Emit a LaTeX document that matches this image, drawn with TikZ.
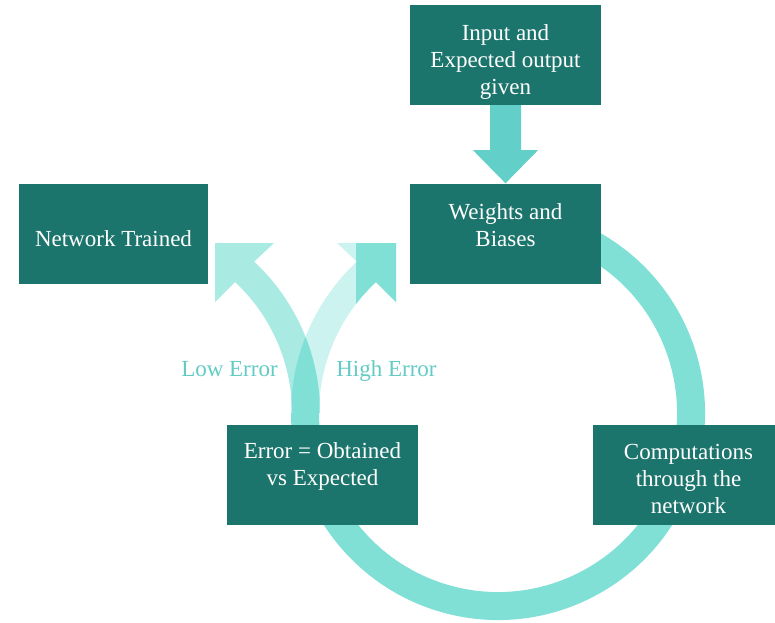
\documentclass[tikz,border=0pt]{standalone}
\usepackage{fontspec}
\setmainfont{Liberation Serif}
\usetikzlibrary{calc}

\definecolor{boxteal}{HTML}{1C756C}
\definecolor{ringaqua}{HTML}{80E0D6}
\definecolor{feedaqua}{HTML}{62CFC8}
\definecolor{labelaqua}{HTML}{62CCC4}

% One branch leaving the loop: the ring arc from the left side up to a corner-shaped head
\newcommand\loopbranch{(291,413) arc[start angle=180,end angle=227,radius=207]
  -- (337,243) -- (396,243) -- (396,302) -- (375.92,282.09)
  arc[start angle=227,end angle=180,radius=179] -- cycle}

\tikzset{
  stage/.style={fill=boxteal, minimum width=191pt, minimum height=100pt, inner sep=0pt},
  stagetext/.style={text=white, font=\fontsize{23}{27}\selectfont, align=center,
    inner sep=0pt, anchor=north},
  branchlabel/.style={text=labelaqua, font=\fontsize{23}{27}\selectfont,
    inner sep=0pt, anchor=base},
  mirrored/.style={xshift=611pt, xscale=-1},
}

\begin{document}
\begin{tikzpicture}[x=1pt, y=-1pt]
\useasboundingbox (0,0) rectangle (775,622);
\clip (0,0) rectangle (775,622);

% main loop ring (clockwise from behind "Weights and Biases")
\coordinate (ctr) at (498,413);
\draw[ringaqua, line width=28pt] ($(ctr)+(-70:193)$) arc[start angle=-70, end angle=180, radius=193];

% "High Error" branch: faded shaft, solid head part
\fill[ringaqua, opacity=0.4] \loopbranch;
\begin{scope}
  \clip (356,0) rectangle (800,622);
  \fill[ringaqua] \loopbranch;
\end{scope}

% "Low Error" branch: mirror image, semi-transparent
\begin{scope}[mirrored]
  \fill[ringaqua, opacity=0.68] \loopbranch;
\end{scope}

% where both branches overlap the ring colour is full
\begin{scope}[mirrored]
  \clip \loopbranch;
  \begin{scope}[mirrored]
    \fill[ringaqua] \loopbranch;
  \end{scope}
\end{scope}

% branch labels
\node[branchlabel] (lowlbl) at (229.5,376) {Low Error};
\node[branchlabel] (highlbl) at (386.5,376) {High Error};

% stage boxes
\node[stage] (inp) at (505.5,55) {};
\node[stage] (wb) at (505.5,233.5) {};
\node[stage, minimum width=189pt] (nt) at (113.5,233.5) {};
\node[stage] (err) at (322.5,475) {};
\node[stage] (comp) at (688.5,474.5) {};

\node[stagetext] (inp-t) at ($(inp.north)+(0,20)$) {Input and\\Expected output\\given};
\node[stagetext] (wb-t) at ($(wb.north)+(0,20)$) {Weights and\\Biases};
\node[stagetext, anchor=center] (nt-t) at ($(nt.center)+(0,5)$) {Network Trained};
\node[stagetext] (err-t) at ($(err.north)+(0,18)$) {Error = Obtained\\vs Expected};
\node[stagetext] (comp-t) at ($(comp.north)+(0,20)$) {Computations\\through the\\network};

% input feeds the weights
\fill[feedaqua] ($(inp.south)+(-15.5,0)$) -- ($(inp.south)+(15.5,0)$)
  -- ($(inp.south)+(15.5,45)$) -- ($(inp.south)+(32.5,45)$) -- (wb.north)
  -- ($(inp.south)+(-32.5,45)$) -- ($(inp.south)+(-15.5,45)$) -- cycle;
\end{tikzpicture}
\end{document}
